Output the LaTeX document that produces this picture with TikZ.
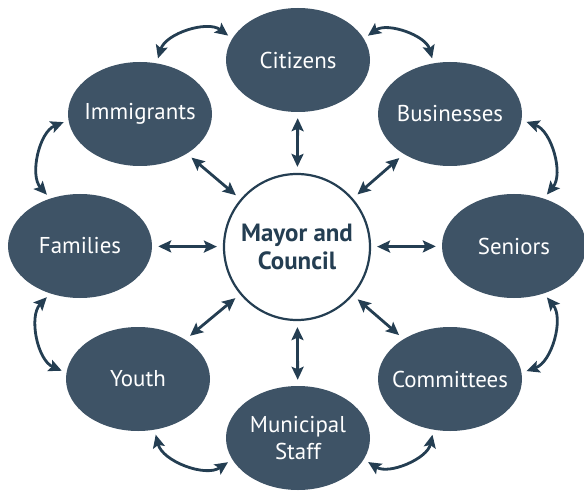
\documentclass[tikz,border=0pt]{standalone}
\usepackage{fontspec}
\setmainfont{PT Sans}
\usetikzlibrary{shapes.geometric,arrows.meta}
\definecolor{slate}{HTML}{3E5366}
\definecolor{arrowblue}{HTML}{243E52}

\tikzset{
  group/.style={ellipse, fill=slate, text=white, minimum width=144bp, minimum height=104bp,
    inner xsep=-30bp, inner ysep=0pt, align=center, font=\fontsize{23}{27}\selectfont},
  hub/.style={circle, draw=arrowblue, line width=2.2bp, fill=white, minimum size=146bp,
    inner sep=0pt, align=center, text=arrowblue, font=\bfseries\fontsize{25}{29}\selectfont},
  link/.style={arrowblue, line width=2.8bp,
    {Stealth[length=13bp,width=12bp,inset=2.5bp]}-{Stealth[length=13bp,width=12bp,inset=2.5bp]}},
}

\begin{document}
\begin{tikzpicture}[x=1bp,y=-1bp]
  \useasboundingbox (0,0) rectangle (584,491);

  % Centre circle
  \node[hub] (mc) at (297,247) {Mayor and\\Council};

  % Groups around it, clockwise from the top
  \node[group] (cit) at (298,60)  {Citizens};
  \node[group] (bus) at (450,114) {Businesses};
  \node[group] (sen) at (514,246) {Seniors};
  \node[group] (com) at (450,379) {Committees};
  \node[group] (mun) at (298,438) {Municipal\\Staff};
  \node[group] (you) at (138,379) {Youth};
  \node[group] (fam) at (80,246)  {Families};
  \node[group] (imm) at (140,114) {Immigrants};

  % Straight arrows to the centre
  \foreach \g in {cit, bus, sen, com, mun, you, fam, imm} {
      \draw[link, shorten <=6bp, shorten >=6bp] (\g) -- (mc);
  }

  % Curved arrows between neighbours
  \foreach \a/\b/\p/\q in {imm/cit/72/162, cit/bus/18/108, bus/sen/-5/58, sen/com/-58/5,
                           com/mun/-108/-18, mun/you/198/288, you/fam/175/238, fam/imm/122/185} {
      \draw[link, shorten <=5bp, shorten >=5bp] (\a.\p) to[bend left=55] (\b.\q);
  }
\end{tikzpicture}
\end{document}
